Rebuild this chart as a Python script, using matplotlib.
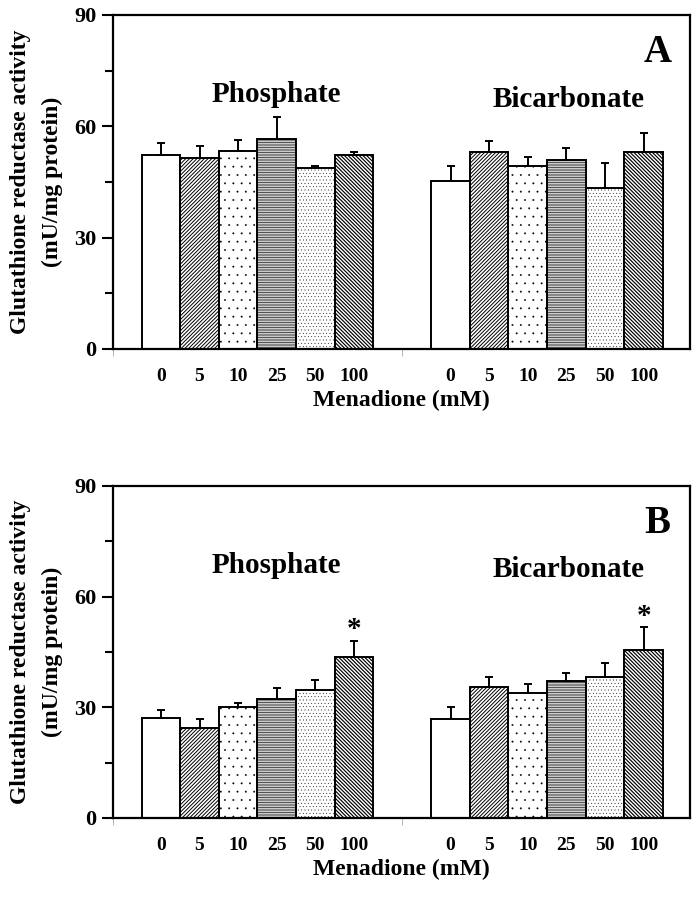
import matplotlib
matplotlib.use("Agg")
import matplotlib.pyplot as plt
import numpy as np

plt.rcParams['font.family'] = ['Liberation Serif', 'DejaVu Serif']
plt.rcParams['font.weight'] = 'bold'
plt.rcParams['hatch.linewidth'] = 0.8

doses = ["0", "5", "10", "25", "50", "100"]
groups = ["Phosphate", "Bicarbonate"]

# Panel A
A_phos = [52.3, 51.5, 53.4, 56.5, 48.9, 52.3]
A_phos_err = [3.3, 3.3, 3.0, 5.9, 0.4, 0.7]
A_bicarb = [45.2, 53.0, 49.3, 51.0, 43.4, 53.0]
A_bicarb_err = [4.0, 3.0, 2.5, 3.2, 6.8, 5.2]

# Panel B
B_phos = [27.1, 24.5, 30.0, 32.2, 34.7, 43.6]
B_phos_err = [2.1, 2.3, 1.3, 3.0, 2.6, 4.4]
B_bicarb = [26.8, 35.5, 34.0, 37.2, 38.1, 45.5]
B_bicarb_err = [3.2, 2.6, 2.4, 2.1, 3.8, 6.2]

B_sig_phos = [False, False, False, False, False, True]
B_sig_bicarb = [False, False, False, False, False, True]

hatches = [None, '/' * 9, '..', '-' * 10, '.' * 5, '\\' * 9]
hatch_lw = [0.8, 0.7, 0.15, 0.6, 0.2, 0.85]
hatch_col = ['black', 'black', 'black', '#333333', 'black', 'black']

fig = plt.figure(figsize=(6.98, 8.98), dpi=100)

panels = [
    ("A", [0.1619, 0.6114, 0.8266, 0.3719], A_phos, A_phos_err, A_bicarb, A_bicarb_err, None, None),
    ("B", [0.1619, 0.0891, 0.8266, 0.3697], B_phos, B_phos_err, B_bicarb, B_bicarb_err, B_sig_phos, B_sig_bicarb),
]

x_phos = np.arange(6)
x_bic = np.arange(6) + 7.5

for letter, rect, ph, phe, bi, bie, sigp, sigb in panels:
    ax = fig.add_axes(rect)
    for xs, vals, errs, sig in [(x_phos, ph, phe, sigp), (x_bic, bi, bie, sigb)]:
        for i, (x, v, e) in enumerate(zip(xs, vals, errs)):
            plt.rcParams['hatch.linewidth'] = hatch_lw[i]
            hb = ax.bar(x, v, width=1.0, color='white', edgecolor=hatch_col[i],
                        linewidth=0, hatch=hatches[i], zorder=2)
            for p in hb:
                try:
                    p.set_hatch_linewidth(hatch_lw[i])
                except Exception:
                    pass
            ax.bar(x, v, width=1.0, fill=False, edgecolor='black',
                   linewidth=1.4, zorder=2.5)
            ax.errorbar(x, v, yerr=[[0], [e]], fmt='none', ecolor='black',
                        elinewidth=1.4, capsize=3, capthick=1.4, zorder=3)
            if sig is not None and sig[i]:
                ax.text(x, v + e + 3.0, "*", ha='center', va='center',
                        fontsize=21, fontweight='bold')
    ax.set_xlim(-1.24, 13.7)
    ax.set_ylim(0, 90)
    ax.set_yticks([0, 30, 60, 90])
    ax.set_yticks([15, 45, 75], minor=True)
    ax.tick_params(axis='y', which='major', direction='out', length=8, width=1.5,
                   labelsize=16, pad=4)
    ax.tick_params(axis='y', which='minor', direction='out', length=6, width=1.5)
    ax.set_xticks(np.concatenate([x_phos, x_bic]))
    ax.set_xticklabels(doses + doses, fontsize=14, fontweight='bold')
    ax.tick_params(axis='x', which='major', length=0, pad=14)
    ax.set_xticks([-1.24, 6.25], minor=True)
    ax.tick_params(axis='x', which='minor', length=5, width=0.6, color='#aaaaaa')
    for s in ax.spines.values():
        s.set_linewidth(1.6)
    for lab in ax.get_yticklabels():
        lab.set_fontweight('bold')
    ax.set_ylabel("Glutathione reductase activity\n(mU/mg protein)", fontsize=17,
                  fontweight='bold', labelpad=8, linespacing=1.65)
    ax.set_xlabel("Menadione (mM)", fontsize=17, fontweight='bold', labelpad=3)
    ax.text(2.98, 66.5, groups[0], ha='center', va='baseline',
            fontsize=21, fontweight='bold')
    ax.text(10.55, 65.2, groups[1], ha='center', va='baseline',
            fontsize=21, fontweight='bold')
    ax.text(12.85, 77.3, letter, ha='center', va='baseline', fontsize=28, fontweight='bold')

fig.savefig("out.png", dpi=100)
